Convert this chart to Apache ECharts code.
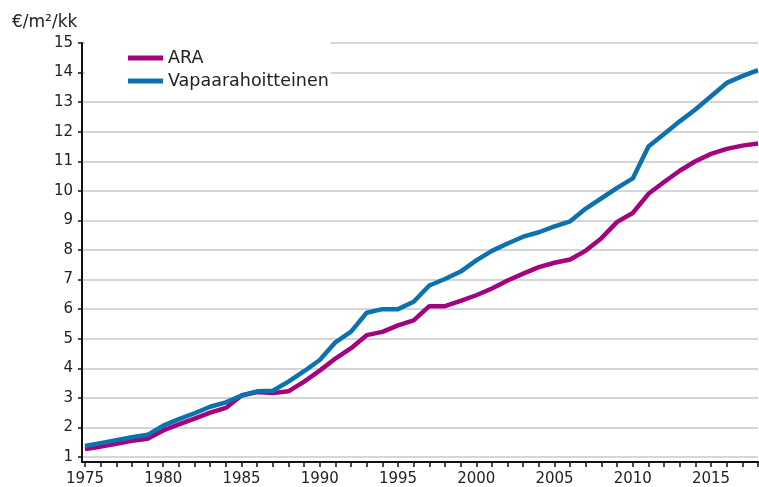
<!DOCTYPE html>
<html>
<head>
<meta charset="utf-8">
<script src="https://cdn.jsdelivr.net/npm/echarts@6/dist/echarts.min.js"></script>
<style>html,body{margin:0;padding:0;background:#fff}#c{width:759px;height:487px}</style>
</head>
<body>
<div id="c"></div>
<script>
const years = [1975,1976,1977,1978,1979,1980,1981,1982,1983,1984,1985,1986,1987,1988,1989,1990,1991,1992,1993,1994,1995,1996,1997,1998,1999,2000,2001,2002,2003,2004,2005,2006,2007,2008,2009,2010,2011,2012,2013,2014,2015,2016,2017,2018];
const ara = [1.27,1.35,1.45,1.55,1.62,1.9,2.1,2.3,2.5,2.66,3.08,3.2,3.16,3.22,3.55,3.92,4.33,4.68,5.12,5.23,5.45,5.62,6.1,6.1,6.28,6.47,6.7,6.97,7.2,7.42,7.57,7.68,7.98,8.4,8.95,9.25,9.9,10.3,10.68,11.0,11.25,11.42,11.53,11.6];
const vapaa = [1.37,1.47,1.57,1.67,1.75,2.06,2.28,2.48,2.7,2.85,3.08,3.22,3.24,3.55,3.9,4.28,4.88,5.24,5.88,6.0,6.0,6.25,6.8,7.02,7.27,7.65,7.97,8.22,8.45,8.6,8.8,8.97,9.4,9.75,10.1,10.42,11.5,11.92,12.35,12.75,13.2,13.65,13.88,14.08];
const xLabelYears = [1975,1980,1985,1990,1995,2000,2005,2010,2015];
const yTicks = [1,2,3,4,5,6,7,8,9,10,11,12,13,14,15];
const seriesNames = ['ARA','Vapaarahoitteinen'];
const unitLabel = '€/m²/kk';

const font = 'DejaVu Sans';
const chart = echarts.init(document.getElementById('c'), null, {renderer:'canvas'});
chart.setOption({
  animation:false,
  backgroundColor:'#ffffff',
  title:{text:unitLabel,left:7,top:9,textStyle:{fontFamily:font,fontSize:17,fontWeight:'normal',color:'#222'}},
  legend:{
    data:seriesNames, orient:'vertical', left:85, top:39,
    padding:[10,2,6,43], backgroundColor:'#ffffff',
    itemWidth:35, itemHeight:5, itemGap:5, icon:'rect',
    textStyle:{fontFamily:font,fontSize:17.5,color:'#222'}, z:10
  },
  grid:{left:82,right:1,top:43,bottom:25,containLabel:false},
  xAxis:{
    type:'value', min:1974.81, max:2018,
    axisLine:{lineStyle:{color:'#111',width:2}},
    axisTick:{show:true,length:5,lineStyle:{color:'#111',width:1.5},customValues:years},
    axisLabel:{customValues:xLabelYears,margin:10,fontFamily:font,fontSize:15,color:'#222',formatter:v=>String(v)},
    splitLine:{show:false}
  },
  yAxis:{
    type:'value', min:0.831, max:15,
    axisLine:{show:true,lineStyle:{color:'#111',width:2}},
    axisTick:{show:true,length:4,lineStyle:{color:'#111',width:1.5},customValues:yTicks},
    axisLabel:{customValues:yTicks,margin:9,fontFamily:font,fontSize:15,color:'#222'},
    splitLine:{show:true,lineStyle:{color:'#c8c8c8',width:1.5}}
  },
  series:[
    {name:seriesNames[0],type:'line',data:years.map((y,i)=>[y,ara[i]]),showSymbol:false,symbol:'none',
     lineStyle:{color:'#a3037f',width:4.5},itemStyle:{color:'#a3037f'}},
    {name:seriesNames[1],type:'line',data:years.map((y,i)=>[y,vapaa[i]]),showSymbol:false,symbol:'none',
     lineStyle:{color:'#0b72ad',width:4.5},itemStyle:{color:'#0b72ad'}}
  ]
});
</script>
</body>
</html>
